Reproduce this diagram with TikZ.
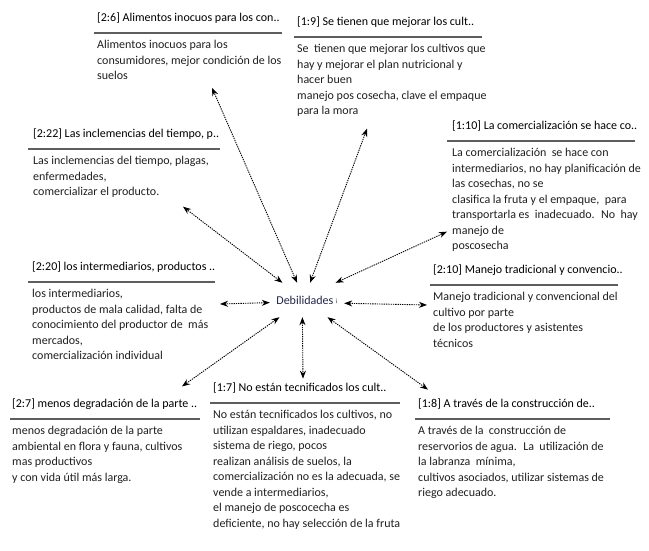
\documentclass[tikz,border=0pt]{standalone}
\usepackage{fontspec}
\setmainfont{Carlito}
\usetikzlibrary{arrows.meta,positioning}

\definecolor{rulegray}{HTML}{5E5E5E}
\definecolor{debblue}{HTML}{23234A}

\begin{document}
\begin{tikzpicture}[x=1pt,y=1pt]
    \useasboundingbox (0,0) rectangle (649,550);

    \tikzstyle{citatitle}=[anchor=west,inner sep=0pt,
      font=\fontsize{12pt}{15.5pt}\selectfont]
    \tikzstyle{citabody}=[anchor=north west,inner sep=0pt,align=left,
      text=black!88,font=\fontsize{12pt}{15.5pt}\selectfont]
    \tikzstyle{citarule}=[draw=rulegray,line width=1.9pt]
    \tikzstyle{link}=[dash pattern=on 1.3pt off 1pt,line width=0.9pt,
      {Stealth[length=8pt,width=6pt]}-{Stealth[length=8pt,width=6pt]}]

    %% Central code
    \node [minimum width=74pt,minimum height=34pt,inner sep=0pt,text=debblue,
      font=\fontsize{12pt}{15pt}\selectfont] at (307,250) (deb)
      {Debilidades\,{\scriptsize\raisebox{2pt}{¡}}};

    %% Quotations above
    \node [citatitle] at (97,532) (t26) {[2:6] Alimentos inocuos para los con..};
    \draw [citarule] ([shift={(-3pt,-15pt)}]t26.west) -- +(188pt,0);
    \node [citabody,yshift=-22pt] at (t26.west) (b26)
      {Alimentos inocuos para los\\consumidores, mejor condición de los\\suelos};

    \node [citatitle] at (297,528) (t19) {[1:9] Se tienen que mejorar los cult..};
    \draw [citarule] ([shift={(-3pt,-15pt)}]t19.west) -- +(188pt,0);
    \node [citabody,yshift=-22pt] at (t19.west) (b19)
      {Se~ tienen que mejorar los cultivos que\\hay y mejorar el plan nutricional y\\hacer buen\\manejo pos cosecha, clave el empaque\\para la mora};

    \node [citatitle] at (33,416) (t222) {[2:22] Las inclemencias del tiempo, p..};
    \draw [citarule] ([shift={(-5pt,-15pt)}]t222.west) -- +(192pt,0);
    \node [citabody,yshift=-22pt] at (t222.west) (b222)
      {Las inclemencias del tiempo, plagas,\\enfermedades,\\comercializar el producto.};

    \node [citatitle] at (452,424) (t110) {[1:10] La comercialización se hace co..};
    \draw [citarule] ([shift={(-5pt,-15pt)}]t110.west) -- +(188pt,0);
    \node [citabody,yshift=-22pt] at (t110.west) (b110)
      {La comercialización~ se hace con\\intermediarios, no hay planificación de\\las cosechas, no se\\clasifica la fruta y el empaque,~ para\\transportarla es~ inadecuado.~ No~ hay\\manejo de\\poscosecha};

    %% Quotations at the sides
    \node [citatitle] at (32,283) (t220) {[2:20] los intermediarios, productos ..};
    \draw [citarule] ([shift={(-4pt,-15pt)}]t220.west) -- +(187pt,0);
    \node [citabody,yshift=-22pt] at (t220.west) (b220)
      {los intermediarios,\\productos de mala calidad, falta de\\conocimiento del productor de~ más\\mercados,\\comercialización individual};

    \node [citatitle] at (433,280) (t210) {[2:10] Manejo tradicional y convencio..};
    \draw [citarule] ([shift={(-3pt,-15pt)}]t210.west) -- +(188pt,0);
    \node [citabody,yshift=-22pt] at (t210.west) (b210)
      {Manejo tradicional y convencional del\\cultivo por parte\\de los productores y asistentes\\técnicos};

    %% Quotations below
    \node [citatitle] at (12,146) (t27) {[2:7] menos degradación de la parte ..};
    \draw [citarule] ([shift={(-2pt,-15pt)}]t27.west) -- +(190pt,0);
    \node [citabody,yshift=-22pt] at (t27.west) (b27)
      {menos degradación de la parte\\ambiental en flora y fauna, cultivos\\mas productivos\\y con vida útil más larga.};

    \node [citatitle] at (213,162) (t17) {[1:7] No están tecnificados los cult..};
    \draw [citarule] ([shift={(-3pt,-15pt)}]t17.west) -- +(190pt,0);
    \node [citabody,yshift=-22pt] at (t17.west) (b17)
      {No están tecnificados los cultivos, no\\utilizan espaldares, inadecuado\\sistema de riego, pocos\\realizan análisis de suelos, la\\comercialización no es la adecuada, se\\vende a intermediarios,\\el manejo de poscocecha es\\deficiente, no hay selección de la fruta};

    \node [citatitle] at (418,146) (t18) {[1:8] A través de la construcción de..};
    \draw [citarule] ([shift={(-3pt,-15pt)}]t18.west) -- +(195pt,0);
    \node [citabody,yshift=-22pt] at (t18.west) (b18)
      {A través de la~ construcción de\\reservorios de agua.~ La~ utilización de\\la labranza~ mínima,\\cultivos asociados, utilizar sistemas de\\riego adecuado.};

    %% Links
    \draw [link] (deb.120) -- ([shift={(115pt,-8pt)}]b26.south west);
    \draw [link] (deb.80) -- ([shift={(70pt,-12pt)}]b19.south west);
    \draw [link] (deb.145) -- ([shift={(150pt,-9pt)}]b222.south west);
    \draw [link] (deb.31) -- ([shift={(-5pt,20pt)}]b110.south west);
    \draw [link] (deb.184) -- ([shift={(188pt,-15pt)}]b220.north west);
    \draw [link] (deb.-5) -- ([shift={(-6pt,-13pt)}]b210.north west);
    \draw [link] (deb.-148) -- ([shift={(170pt,12pt)}]t27.north west);
    \draw [link] (deb.-105) -- ([shift={(90pt,4pt)}]t17.north west);
    \draw [link] (deb.-40) -- ([shift={(10pt,9pt)}]t18.north west);
\end{tikzpicture}
\end{document}
